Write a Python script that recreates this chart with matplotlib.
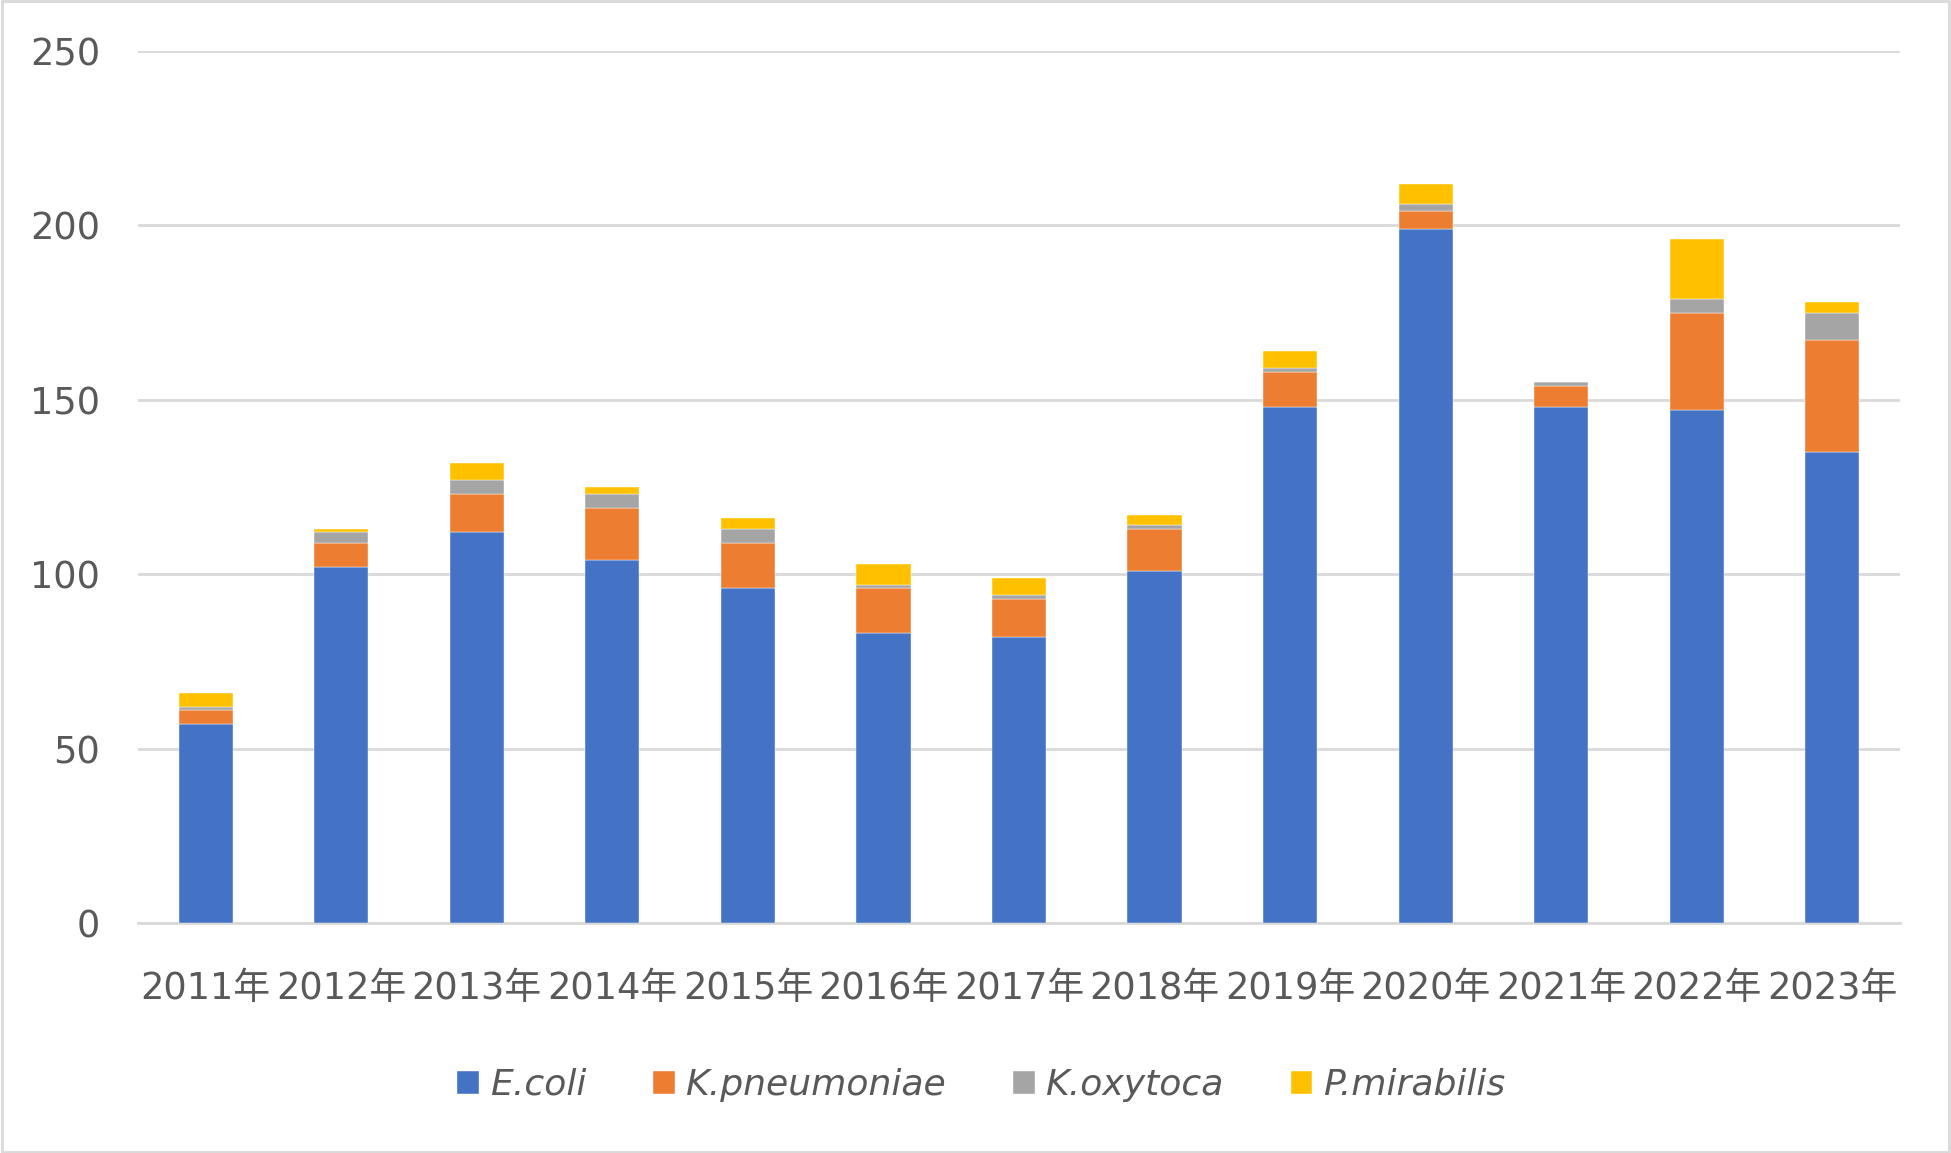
import numpy as np
import matplotlib.pyplot as plt
from matplotlib.patches import Rectangle

plt.rcParams['font.family'] = ['DejaVu Sans', 'Noto Sans CJK SC']

years = ['2011年', '2012年', '2013年', '2014年', '2015年', '2016年', '2017年',
         '2018年', '2019年', '2020年', '2021年', '2022年', '2023年']
e_coli = [57, 102, 112, 104, 96, 83, 82, 101, 148, 199, 148, 147, 135]
k_pneumoniae = [4, 7, 11, 15, 13, 13, 11, 12, 10, 5, 6, 28, 32]
k_oxytoca = [1, 3, 4, 4, 4, 1, 1, 1, 1, 2, 1, 4, 8]
p_mirabilis = [4, 1, 5, 2, 3, 6, 5, 3, 5, 6, 0, 17, 3]

series = [('E.coli', e_coli, '#4472C4'),
          ('K.pneumoniae', k_pneumoniae, '#ED7D31'),
          ('K.oxytoca', k_oxytoca, '#A5A5A5'),
          ('P.mirabilis', p_mirabilis, '#FFC000')]

text_color = '#595959'

fig = plt.figure(figsize=(19.51, 11.53), dpi=100)
ax = fig.add_axes([0.0707, 0.1995, 0.9032, 0.7563])

x = np.arange(len(years))
bottom = np.zeros(len(years))
handles = []
for name, vals, color in series:
    h = ax.bar(x, vals, width=0.4, bottom=bottom, color=color, label=name,
               edgecolor='white', linewidth=0.3, zorder=3)
    handles.append(h)
    bottom += np.array(vals)

ax.set_xlim(-0.5, len(years) - 0.5)
ax.set_ylim(0, 250)
ax.set_yticks(range(0, 251, 50))
ax.yaxis.grid(True, color='#D9D9D9', linewidth=2, zorder=0)
ax.set_axisbelow(True)
for s in ['top', 'right', 'left']:
    ax.spines[s].set_visible(False)
ax.spines['bottom'].set_color('#D9D9D9')
ax.spines['bottom'].set_linewidth(2)

ax.set_xticks(x)
ax.set_xticklabels(years)
ax.tick_params(axis='both', length=0, colors=text_color, labelsize=26.5)
ax.tick_params(axis='y', pad=27)
ax.tick_params(axis='x', pad=34)

# legend below the plot, one row
leg = fig.legend(handles=handles, loc='center', bbox_to_anchor=(0.503, 0.059),
                 ncol=4, frameon=False, fontsize=26, handlelength=0.6,
                 handleheight=0.6, handletextpad=0.3, columnspacing=1.85)
for t in leg.get_texts():
    t.set_color(text_color)
    t.set_fontstyle('italic')

fig.patches.append(Rectangle((0.001, 0.001), 0.998, 0.998, transform=fig.transFigure,
                             fill=False, edgecolor='#D9D9D9', linewidth=2))

fig.savefig('out.png', dpi=100, facecolor='white')
